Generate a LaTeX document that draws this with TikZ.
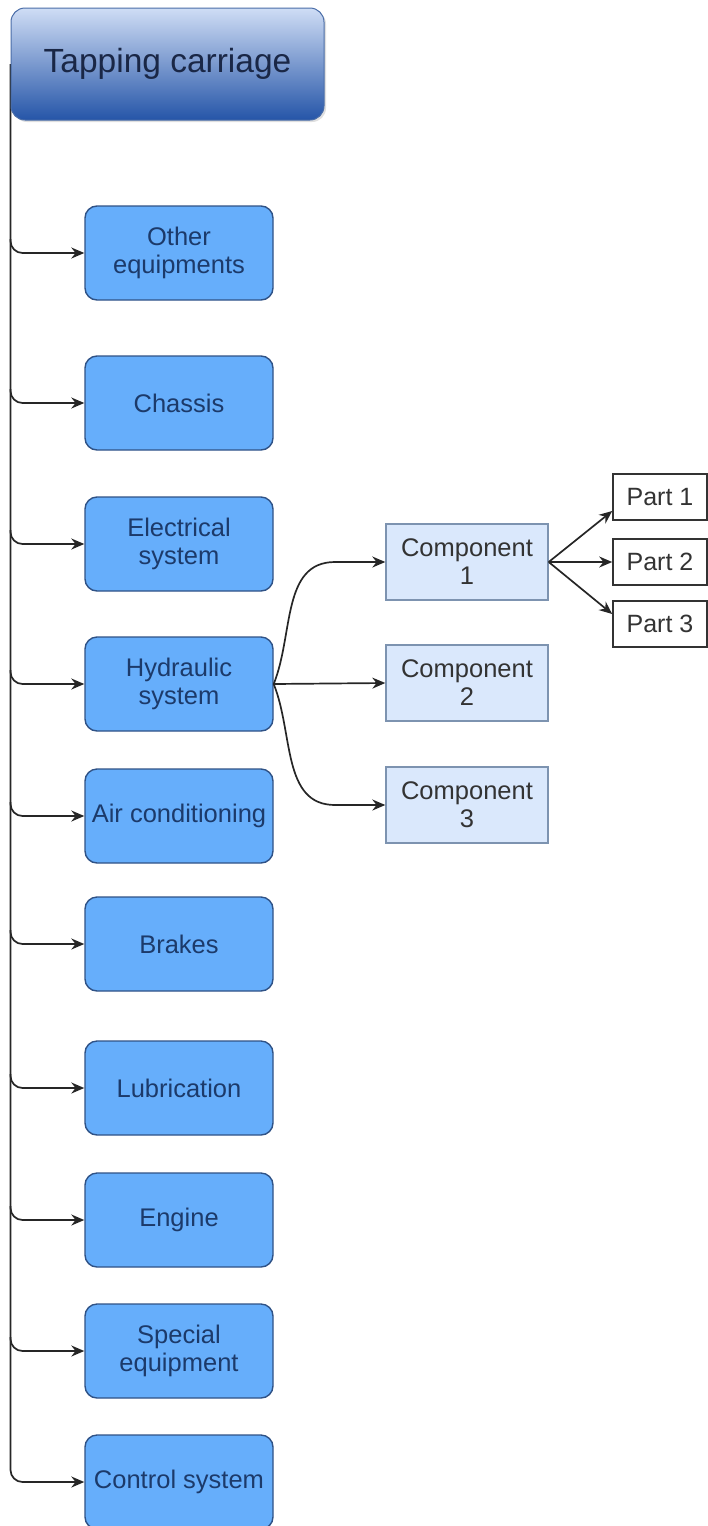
\documentclass[tikz,border=0pt]{standalone}
\usepackage{fontspec}
\setmainfont{Liberation Sans}
\usetikzlibrary{arrows.meta,calc,shadows}
\pgfdeclarelayer{bg}
\pgfsetlayers{bg,main}
\definecolor{bfill}{HTML}{66AEFB}
\definecolor{bdraw}{HTML}{2F5286}
\definecolor{btext}{HTML}{1C3A6A}
\definecolor{cfill}{HTML}{DAE8FC}
\definecolor{cdraw}{HTML}{7D93B0}
\definecolor{ctext}{HTML}{333333}
\definecolor{ttop}{HTML}{CFDDF5}
\definecolor{tbot}{HTML}{2555A8}
\definecolor{tdraw}{HTML}{4A6DA8}
\definecolor{ttext}{HTML}{1A2746}
\begin{document}
\begin{tikzpicture}[x=1pt,y=1pt,
  mainbox/.style={draw=bdraw, line width=1.4pt, fill=bfill, rounded corners=12pt,
    minimum width=188pt, minimum height=94pt, text=btext, align=center,
    font=\fontsize{25.5}{28}\selectfont, inner sep=0pt},
  compbox/.style={draw=cdraw, line width=1.4pt, fill=cfill,
    minimum width=162pt, minimum height=76pt, text=ctext, align=center,
    font=\fontsize{25.5}{28}\selectfont, inner sep=0pt},
  partbox/.style={draw=ctext, line width=1.6pt, fill=white,
    minimum width=94pt, minimum height=46pt, text=ctext, align=center,
    font=\fontsize{25}{28}\selectfont, inner sep=0pt},
  titlebox/.style={draw=tdraw, line width=1pt, rounded corners=14pt,
    top color=ttop, bottom color=tbot, minimum width=313pt, minimum height=112pt,
    text=ttext, font=\fontsize{33.5}{38}\selectfont, inner sep=0pt,
    drop shadow={opacity=0.25, shadow xshift=2pt, shadow yshift=-2pt}},
  arr/.style={draw=black!85, line width=1.7pt, -{Stealth[length=13pt,width=11pt]}},
  branch/.style={arr, rounded corners=12pt}
]
\useasboundingbox (0,0) rectangle (708,-1526);

% title
\node[titlebox] (tc) at (167.5,-64) {Tapping carriage};

% main boxes
\node[mainbox] (oe) at (179,-253) {Other\\equipments};
\node[mainbox] (ch) at (179,-403) {Chassis};
\node[mainbox] (el) at (179,-544) {Electrical\\system};
\node[mainbox] (hy) at (179,-684) {Hydraulic\\system};
\node[mainbox] (ac) at (179,-816) {Air conditioning};
\node[mainbox] (br) at (179,-944) {Brakes};
\node[mainbox] (lu) at (179,-1088) {Lubrication};
\node[mainbox] (en) at (179,-1220) {Engine};
\node[mainbox] (se) at (179,-1351) {Special\\equipment};
\node[mainbox] (cs) at (179,-1482) {Control system};

% components
\node[compbox] (c1) at (467,-562) {Component\\1};
\node[compbox] (c2) at (467,-683) {Component\\2};
\node[compbox] (c3) at (467,-805) {Component\\3};

% parts
\node[partbox] (p1) at (660,-497) {Part 1};
\node[partbox] (p2) at (660,-562) {Part 2};
\node[partbox] (p3) at (660,-624) {Part 3};

% trunk and branches
\begin{pgfonlayer}{bg}
\draw[branch] (tc.west) |- (cs.west);
\end{pgfonlayer}
\foreach \b in {oe,ch,el,hy,ac,br,lu,en,se}{
  \draw[branch] ($(tc.west |- \b.west)+(0,14)$) |- (\b.west);
}

% hydraulic to components
\coordinate (k1) at (335,-562);
\coordinate (k3) at (335,-805);
\draw[arr] (hy.east) to[out=68,in=180] (k1) -- (c1.west);
\draw[arr] (hy.east) -- (c2.west);
\draw[arr] (hy.east) to[out=-68,in=180] (k3) -- (c3.west);

% component 1 to parts
\draw[arr] (c1.east) -- ($(p1.west)+(0,-14)$);
\draw[arr] (c1.east) -- (p2.west);
\draw[arr] (c1.east) -- ($(p3.west)+(0,10)$);
\end{tikzpicture}
\end{document}
